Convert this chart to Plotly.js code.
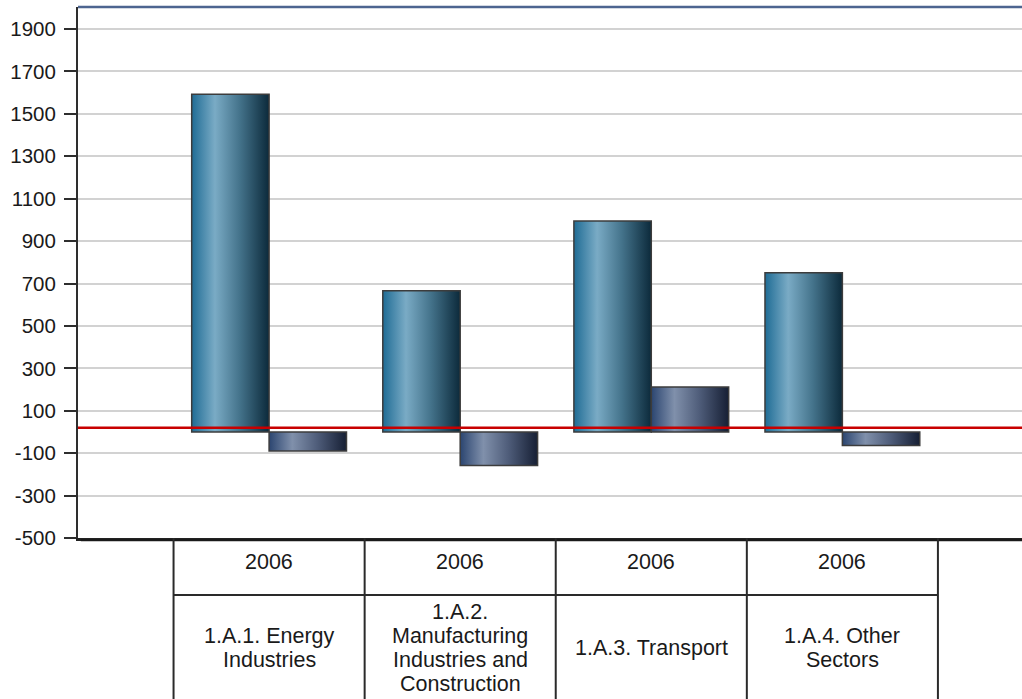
<!DOCTYPE html>
<html>
<head>
<meta charset="utf-8">
<script src="https://cdn.plot.ly/plotly-3.0.1.min.js"></script>
<style>
  html, body { margin: 0; padding: 0; background: #ffffff; }
  #chart { width: 1022px; height: 699px; }
</style>
</head>
<body>
<div id="chart"></div>
<script>
// Sector categories, one column of the table under the axis each
const categories = [
  "1.A.1. Energy Industries",
  "1.A.2. Manufacturing Industries and Construction",
  "1.A.3. Transport",
  "1.A.4. Other Sectors"
];
const categoryLabelLines = [
  ["1.A.1. Energy", "Industries"],
  ["1.A.2.", "Manufacturing", "Industries and", "Construction"],
  ["1.A.3. Transport"],
  ["1.A.4. Other", "Sectors"]
];
const yearLabels = ["2006", "2006", "2006", "2006"];

// Two series per sector
const seriesA = [1592, 666, 995, 751];
const seriesB = [-90, -158, 212, -64];

// Horizontal reference level (red line)
const referenceLevel = 20;

// Value axis ticks
const yTicks = [1900, 1700, 1500, 1300, 1100, 900, 700, 500, 300, 100, -100, -300, -500];

const xIdx = categories.map((_, i) => i);
const plotBottomPx = 538;
const plotHeightPx = 531;
const pxToPaper = px => (plotBottomPx - px) / plotHeightPx;

const traces = [
  {
    type: "bar", x: xIdx, y: seriesA, name: "A",
    marker: { color: "#2a6f93", line: { color: "#3c3c3c", width: 1.5 } },
    hoverinfo: "y"
  },
  {
    type: "bar", x: xIdx, y: seriesB, name: "B",
    marker: { color: "#4a5d80", line: { color: "#3c3c3c", width: 1.5 } },
    hoverinfo: "y"
  }
];

const shapes = [];
// red reference line
shapes.push({ type: "line", xref: "paper", yref: "y", x0: 0, x1: 1, y0: referenceLevel, y1: referenceLevel,
  line: { color: "#c80000", width: 2.5 }, layer: "above" });
// top border of the plot area
shapes.push({ type: "line", xref: "paper", yref: "paper", x0: 0, x1: 1, y0: 1, y1: 1,
  line: { color: "#4d6590", width: 2.5 } });
// soft shadow under the category axis
shapes.push({ type: "line", xref: "paper", yref: "paper", x0: 0.003, x1: 1, y0: pxToPaper(540.5), y1: pxToPaper(540.5),
  line: { color: "rgba(0,0,0,0.22)", width: 3 } });
// table under the axis: column separators and the row divider
const tableBottom = pxToPaper(699);
for (let i = 0; i <= categories.length; i++) {
  shapes.push({ type: "line", xref: "x", yref: "paper", x0: i - 0.5, x1: i - 0.5, y0: 0, y1: tableBottom,
    line: { color: "#2a2a2a", width: 2 } });
}
shapes.push({ type: "line", xref: "x", yref: "paper", x0: -0.5, x1: categories.length - 0.5,
  y0: pxToPaper(595), y1: pxToPaper(595), line: { color: "#2a2a2a", width: 2 } });

const annotations = [];
const tableFont = { family: "Liberation Sans, Arial, sans-serif", size: 21.5, color: "#1a1a1a" };
xIdx.forEach(i => {
  annotations.push({ xref: "x", yref: "paper", x: i, y: 0, yshift: -(562 - plotBottomPx),
    text: yearLabels[i], showarrow: false, xanchor: "center", yanchor: "middle", font: tableFont });
  const lines = categoryLabelLines[i];
  const center = 647.5, spacing = 24;
  lines.forEach((ln, k) => {
    const py = center + (k - (lines.length - 1) / 2) * spacing;
    annotations.push({ xref: "x", yref: "paper", x: i, y: 0, yshift: -(py - plotBottomPx),
      text: ln, showarrow: false, xanchor: "center", yanchor: "middle", font: tableFont });
  });
});

const layout = {
  width: 1022, height: 699,
  margin: { l: 78, r: 0, t: 7, b: 161, pad: 0 },
  paper_bgcolor: "#ffffff", plot_bgcolor: "#ffffff",
  showlegend: false,
  barmode: "group", bargap: 0.19, bargroupgap: 0,
  xaxis: {
    range: [-1, 3.94], showgrid: false, zeroline: false, showticklabels: false, ticks: "",
    showline: true, linecolor: "#222222", linewidth: 3, fixedrange: true
  },
  yaxis: {
    range: [-500, 2004], tickvals: yTicks, ticktext: yTicks.map(String),
    showgrid: true, gridcolor: "#d2d2d2", gridwidth: 2, zeroline: false,
    showline: true, linecolor: "#2e2e2e", linewidth: 2,
    ticks: "outside", ticklen: 12, tickwidth: 2, tickcolor: "#2e2e2e",
    ticklabelstandoff: 4,
    tickfont: { family: "Liberation Sans, Arial, sans-serif", size: 20.5, color: "#1a1a1a" },
    fixedrange: true
  },
  shapes: shapes,
  annotations: annotations
};

// Horizontal cylinder-like shading for each series
const gradients = [
  [["0", "#1f6c95"], ["0.3", "#7aabc5"], ["0.62", "#44738b"], ["1", "#0c2a3b"]],
  [["0", "#2b4570"], ["0.3", "#8090ab"], ["0.62", "#4f5d7a"], ["1", "#161f34"]]
];

function applyGradients(gd) {
  const svgNS = "http://www.w3.org/2000/svg";
  const svg = gd.querySelector(".main-svg");
  let defs = svg.querySelector("defs");
  if (!defs) { defs = document.createElementNS(svgNS, "defs"); svg.insertBefore(defs, svg.firstChild); }
  gradients.forEach((stops, t) => {
    const lg = document.createElementNS(svgNS, "linearGradient");
    lg.setAttribute("id", "barShade" + t);
    lg.setAttribute("x1", "0"); lg.setAttribute("y1", "0");
    lg.setAttribute("x2", "1"); lg.setAttribute("y2", "0");
    stops.forEach(([off, col]) => {
      const s = document.createElementNS(svgNS, "stop");
      s.setAttribute("offset", off);
      s.setAttribute("stop-color", col);
      lg.appendChild(s);
    });
    defs.appendChild(lg);
  });
  gd.querySelectorAll(".barlayer .trace").forEach((tr, t) => {
    tr.querySelectorAll(".point path").forEach(p => {
      p.style.fill = "url(#barShade" + t + ")";
    });
  });
}

Plotly.newPlot("chart", traces, layout, { displayModeBar: false, staticPlot: true })
  .then(applyGradients);
</script>
</body>
</html>
